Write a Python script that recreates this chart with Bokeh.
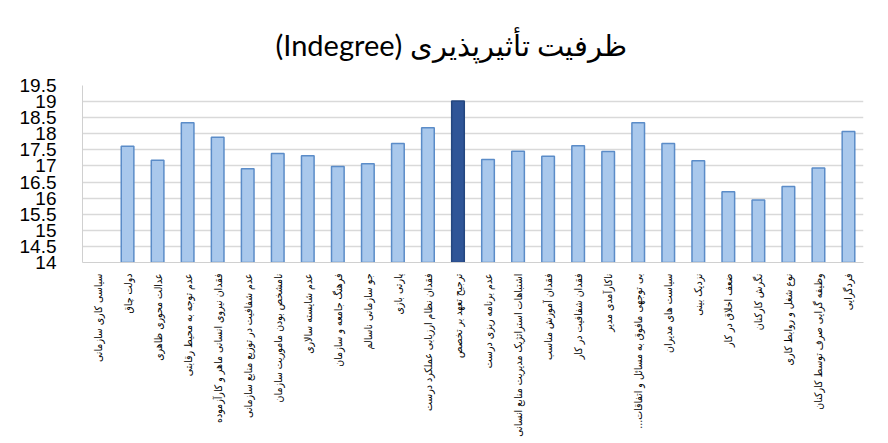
import math
from bokeh.plotting import figure
from bokeh.models import Range1d, FactorRange, FixedTicker, ColumnDataSource
from bokeh.embed import file_html
from bokeh.resources import INLINE

title_text = "\u202bظرفیت تأثیرپذیری (Indegree)\u202c"

categories = [
    "سیاسی کاری سازمانی",
    "دولت چاق",
    "عدالت محوری ظاهری",
    "عدم توجه به محیط رقابتی",
    "فقدان نیروی انسانی ماهر و کارآزموده",
    "عدم شفافیت در توزیع منابع سازمانی",
    "نامشخص بودن ماموریت سازمان",
    "عدم شایسته سالاری",
    "فرهنگ جامعه و سازمان",
    "جو سازمانی ناسالم",
    "پارتی بازی",
    "فقدان نظام ارزیابی عملکرد درست",
    "ترجیح تعهد بر تخصص",
    "عدم برنامه ریزی درست",
    "اشتباهات استراتژیک مدیریت منابع انسانی",
    "فقدان آموزش مناسب",
    "فقدان شفافیت در کار",
    "ناکارآمدی مدیر",
    "بی توجهی مافوق به مسائل و اتفاقات...\u200f",
    "سیاست های مدیران",
    "نزدیک بینی",
    "ضعف اخلاق در کار",
    "نگرش کارکنان",
    "نوع شغل و روابط کاری",
    "وظیفه گرایی صرف توسط کارکنان",
    "فردگرایی",
]

values = [
    float("nan"), 17.61, 17.18, 18.34, 17.89, 16.91, 17.39, 17.32, 16.98,
    17.07, 17.70, 18.19, 19.02, 17.20, 17.46, 17.30, 17.63, 17.45, 18.34,
    17.70, 17.16, 16.20, 15.94, 16.36, 16.94, 18.07,
]

highlight = "ترجیح تعهد بر تخصص"

y_ticks = [14, 14.5, 15, 15.5, 16, 16.5, 17, 17.5, 18, 18.5, 19, 19.5]
y_tick_labels = ["14", "14.5", "15", "15.5", "16", "16.5", "17", "17.5",
                 "18", "18.5", "19", "19.5"]

fill_colors = ["#2f5597" if c == highlight else "#a9c8ec" for c in categories]
line_colors = ["#23467f" if c == highlight else "#5b8cc8" for c in categories]

source = ColumnDataSource(dict(cat=categories, val=values,
                               fill=fill_colors, line=line_colors))

p = figure(
    width=888, height=443,
    x_range=FactorRange(*categories, range_padding=0),
    y_range=Range1d(14, 19.5),
    output_backend="svg", toolbar_location=None,
    title=title_text,
    min_border_left=82, min_border_right=25, min_border_top=85,
    min_border_bottom=181,
)

p.vbar(x="cat", top="val", bottom=14, width=0.42, source=source,
       fill_color="fill", line_color="line", line_width=1.5)

p.title.align = "left"
p.title.offset = 193
p.title.text_font = "Lato"
p.title.text_font_size = "29px"
p.title.text_font_style = "normal"
p.title.text_color = "#000000"
p.title.standoff = 47

p.outline_line_color = None
p.background_fill_color = "white"
p.border_fill_color = "white"

p.xgrid.grid_line_color = None
p.ygrid.grid_line_color = "#d9d9d9"
p.ygrid.grid_line_width = 1.5
p.yaxis.ticker = FixedTicker(ticks=y_ticks)
p.yaxis.major_label_overrides = {t: l for t, l in zip(y_ticks, y_tick_labels)}
p.yaxis.major_label_text_font = "Liberation Sans"
p.yaxis.major_label_text_font_size = "19px"
p.yaxis.major_label_text_color = "#000000"
p.yaxis.major_label_standoff = 20
p.yaxis.major_tick_line_color = None
p.yaxis.minor_tick_line_color = None
p.yaxis.axis_line_color = "#d0d0d0"

p.xaxis.major_label_orientation = math.pi / 2
p.xaxis.major_label_text_font = "DejaVu Sans Condensed"
p.xaxis.major_label_text_font_size = "10.5px"
p.xaxis.major_label_text_color = "#000000"
p.xaxis.major_label_standoff = 5
p.xaxis.major_tick_line_color = None
p.xaxis.minor_tick_line_color = None
p.xaxis.axis_line_color = "#d0d0d0"

open("out.html", "w").write(file_html(p, INLINE))
